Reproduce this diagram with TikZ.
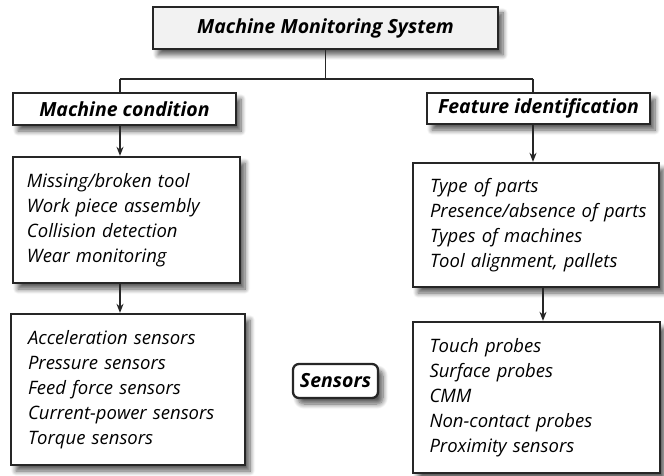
\documentclass[tikz,border=0pt]{standalone}
\usepackage{fontspec}
\setmainfont{Open Sans}
\usetikzlibrary{shadows.blur,arrows.meta}
\definecolor{topfill}{HTML}{F2F2F2}
\tikzset{
  boxbase/.style={draw=black!85, line width=2.3pt, fill=white, inner sep=0pt,
    blur shadow={shadow xshift=5pt, shadow yshift=-6pt, shadow blur steps=8, shadow blur radius=5pt, shadow opacity=65}},
  headbox/.style={boxbase, font=\fontsize{19.5}{22}\selectfont\bfseries\itshape},
  listbox/.style={boxbase, font=\fontsize{18.5}{25}\selectfont\itshape, align=left},
  conn/.style={draw=black!85, line width=1.8pt},
  arr/.style={conn, -{Stealth[length=9pt,width=7pt]}}
}
\begin{document}
\begin{tikzpicture}[x=1pt,y=-1pt]
\useasboundingbox (0,0) rectangle (664,476);
\node[headbox, fill=topfill, minimum width=345pt, minimum height=42pt] (top) at (325.5,28) {Machine Monitoring System};
\node[headbox, minimum width=223pt, minimum height=32pt] (mc) at (124.5,109) {Machine condition};
\node[headbox, minimum width=223pt, minimum height=31pt] (fi) at (538.5,108.5) {Feature identification};
\node[listbox, minimum width=227pt, minimum height=126pt, text width=199pt] (l1) at (126.5,220)
  {Missing/broken tool\\Work piece assembly\\Collision detection\\Wear monitoring\\[-6pt]};
\node[listbox, minimum width=246pt, minimum height=124pt, text width=212pt] (r1) at (536,225)
  {Type of parts\\\mbox{Presence/absence of parts}\\Types of machines\\Tool alignment, pallets};
\node[listbox, minimum width=234pt, minimum height=151pt, text width=200pt] (l2) at (128,389.5)
  {Acceleration sensors\\Pressure sensors\\Feed force sensors\\Current-power sensors\\Torque sensors\\[-4pt]};
\node[listbox, minimum width=247pt, minimum height=151pt, text width=214pt] (r2) at (536.5,397.5)
  {Touch probes\\Surface probes\\CMM\\Non-contact probes\\Proximity sensors};
\node[headbox, rounded corners=6pt, minimum width=85pt, minimum height=34pt] (sens) at (335.5,381) {Sensors};
\coordinate (jl) at (120,79);
\coordinate (jr) at (533,79);
\coordinate (jm) at (top.south |- jl);
\draw[conn] (top.south) -- (jm);
\draw[conn] (jl) -- (jr);
\draw[conn] (jl) -- (jl |- mc.north);
\draw[conn] (jr) -- (jr |- fi.north);
\draw[arr] (jl |- mc.south) -- (jl |- l1.north);
\draw[arr] (jr |- fi.south) -- (jr |- r1.north);
\draw[arr] (jl |- l1.south) -- (jl |- l2.north);
\coordinate (xr) at (543,0);
\draw[arr] (xr |- r1.south) -- (xr |- r2.north);
\end{tikzpicture}
\end{document}
